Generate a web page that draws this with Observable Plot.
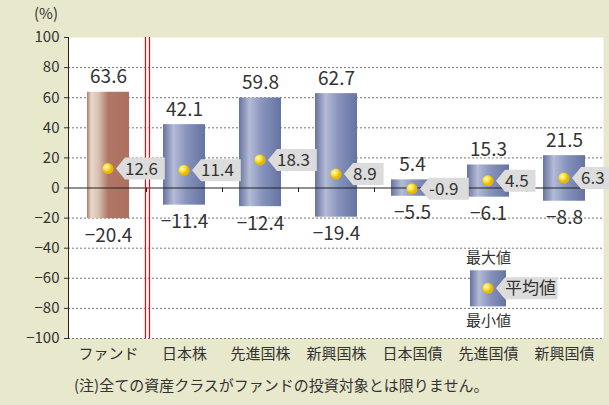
<!DOCTYPE html>
<html><head><meta charset="utf-8">
<script src="https://cdn.jsdelivr.net/npm/d3@7"></script>
<script src="https://cdn.jsdelivr.net/npm/@observablehq/plot@0.6"></script>
<style>
body{margin:0;background:#e8e8cc;font-family:"Noto Sans CJK JP","Noto Sans",sans-serif;}
#wrap{position:relative;width:609px;height:405px;}
#unit{position:absolute;left:34px;top:2px;font-size:15px;color:#333;}
#chart{position:absolute;left:0;top:0;}
#note{position:absolute;left:74px;top:374px;font-size:15px;color:#333;white-space:nowrap;}
</style></head><body>
<div id="wrap"><div id="chart"></div><div id="unit">(%)</div>
<div id="note">(注)全ての資産クラスがファンドの投資対象とは限りません。</div></div>
<script>
const categories = ['ファンド','日本株','先進国株','新興国株','日本国債','先進国債','新興国債'];
const maxValues = [63.6, 42.1, 59.8, 62.7, 5.4, 15.3, 21.5];
const minValues = [-20.4, -11.4, -12.4, -19.4, -5.5, -6.1, -8.8];
const avgValues = [12.6, 11.4, 18.3, 8.9, -0.9, 4.5, 6.3];
const yTicks = [-100,-80,-60,-40,-20,0,20,40,60,80,100];
// legend sample (in data units, placed in the 先進国債 column)
const legendCat = '先進国債';
const legendBox = {max: -55, min: -79, avg: -67};

const data = categories.map((c, i) => ({cat: c, max: maxValues[i], min: minValues[i], avg: avgValues[i], fund: i === 0}));
const fmt = v => (v < 0 ? '−' : '') + Math.abs(v).toFixed(1);
const fmtAvg = v => (v < 0 ? '-' : '') + Math.abs(v).toFixed(1);

const defs = () => {
  const d = d3.create('svg:defs');
  const b = d.append('linearGradient').attr('id','gBlue');
  [[0,'#66739f'],[0.25,'#b4bbd6'],[0.55,'#8894bd'],[1,'#6573a2']].forEach(([o,c]) => b.append('stop').attr('offset',o).attr('stop-color',c));
  const r = d.append('linearGradient').attr('id','gBrown');
  [[0,'#b07a68'],[0.1,'#e6d8cc'],[0.28,'#d8c0b0'],[0.5,'#b07766'],[1,'#ad6f5f']].forEach(([o,c]) => r.append('stop').attr('offset',o).attr('stop-color',c));
  const y = d.append('radialGradient').attr('id','gYel').attr('cx','35%').attr('cy','35%');
  [[0,'#fffbd0'],[0.5,'#ffe640'],[1,'#e8b800']].forEach(([o,c]) => y.append('stop').attr('offset',o).attr('stop-color',c));
  return d.node();
};

// tag marker: yellow dot plus grey arrow label
function tags(rows, label) {
  return (index, scales) => {
    const g = d3.create('svg:g');
    rows.forEach(r => {
      const cx = scales.x(r.cat) + scales.x.bandwidth() / 2;
      const cy = scales.y(r.avg);
      const t = label(r);
      const w = t.length * (/[0-9.\-]/.test(t) ? 9.2 : 16.5) + 3;
      const x0 = cx + 8;
      g.append('path').attr('d', `M${x0},${cy} L${x0+9},${cy-11} L${x0+9+w},${cy-11} L${x0+9+w},${cy+11} L${x0+9},${cy+11} Z`).attr('fill','#dcdcdc');
      g.append('circle').attr('cx',cx).attr('cy',cy).attr('r',5.5).attr('fill','url(#gYel)');
      g.append('text').attr('x',x0+9).attr('y',cy+6).attr('text-anchor','start').attr('font-size',17).attr('fill','#333').text(t);
    });
    return g.node();
  };
}

const chart = Plot.plot({
  width: 609, height: 374,
  marginLeft: 68, marginRight: 6, marginTop: 37, marginBottom: 36,
  style: {background: 'transparent', fontFamily: '"Noto Sans CJK JP","Noto Sans",sans-serif', fontSize: '15px', color: '#333'},
  x: {domain: categories, paddingInner: 0.45, paddingOuter: 0.22, label: null, tickSize: 0, tickPadding: 10},
  y: {domain: [-100, 100], ticks: yTicks, tickFormat: d => d < 0 ? '−' + (-d) : d, label: null, tickSize: 4},
  marks: [
    defs,
    Plot.frame({fill: 'white', stroke: 'none'}),
    Plot.ruleY(yTicks.filter(d => d !== 0 && d !== 100), {stroke: '#777', strokeDasharray: '2,2', strokeWidth: 1}),
    Plot.barY(data, {x: 'cat', y1: 'min', y2: 'max', fill: d => d.fund ? 'url(#gBrown)' : 'url(#gBlue)'}),
    Plot.ruleY([0], {stroke: '#222', strokeWidth: 1.2}),
    Plot.ruleX(categories.slice(1), {x: d => d, y1: 0, y2: -3, dx: -38, stroke: '#222'}),
    Plot.ruleX([categories[1]], {x: d => d, dx: -39, y1: -100, y2: 100, stroke: 'red', strokeWidth: 1.2}),
    Plot.ruleX([categories[1]], {x: d => d, dx: -35, y1: -100, y2: 100, stroke: 'red', strokeWidth: 1.2}),
    Plot.text(data, {x: 'cat', y: 'max', text: d => fmt(d.max), dy: -15, fontSize: 19, fill: '#333'}),
    Plot.text(data, {x: 'cat', y: 'min', text: d => fmt(d.min), dy: 17, fontSize: 19, fill: '#333'}),
    tags(data, r => fmtAvg(r.avg)),
    // legend
    Plot.barY([legendBox], {x: () => legendCat, y1: 'min', y2: 'max', fill: 'url(#gBlue)', insetLeft: 3, insetRight: 3}),
    Plot.text([legendBox], {x: () => legendCat, y: 'max', text: () => '最大値', dy: -13, fontSize: 15, fill: '#333'}),
    Plot.text([legendBox], {x: () => legendCat, y: 'min', text: () => '最小値', dy: 14, fontSize: 15, fill: '#333'}),
    tags([{cat: legendCat, avg: legendBox.avg}], () => '平均値'),
    Plot.frame({anchor: 'left', stroke: '#222'})
  ]
});
document.getElementById('chart').appendChild(chart);
</script></body></html>
